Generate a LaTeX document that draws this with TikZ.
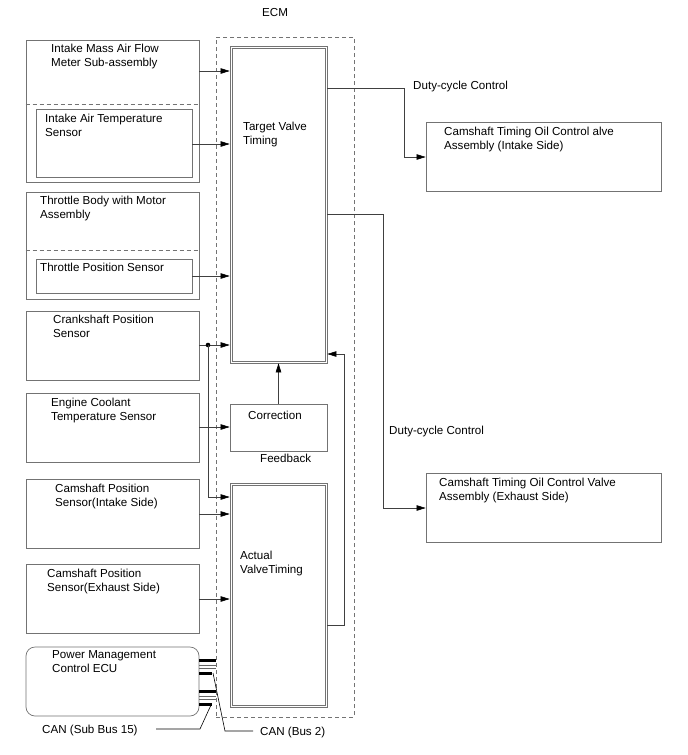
\documentclass[tikz,border=0pt]{standalone}
\usepackage{fontspec}
\setmainfont{Liberation Sans}
\usetikzlibrary{arrows.meta,calc}
\newcommand\tl[1]{\begin{tabular}[t]{@{}l@{}}#1\end{tabular}}
\begin{document}
\begin{tikzpicture}[x=1pt,y=-1pt,
  box/.style={draw=black!55,line width=0.7pt,rectangle,inner sep=0},
  txt/.style={anchor=base west,inner sep=0,font=\fontsize{11.6}{14}\selectfont},
  conn/.style={draw=black!75,line width=0.6pt},
  arr/.style={conn,-{Triangle[length=9pt,width=5.5pt,fill=black,color=black]}},
  dsh/.style={draw=black!55,line width=0.7pt,dash pattern=on 4pt off 3pt},
  bar/.style={draw=black,line width=3pt},
  thin/.style={draw=black!60,line width=0.5pt}]
\useasboundingbox (0,0) rectangle (688,755);
\fill[white] (0,0) rectangle (688,755);
% ECM dashed
\node[dsh,rectangle,inner sep=0,minimum width=138pt,minimum height=680pt] (ecm) at (285,377) {};
\node[txt] (ecmt) at (262,16) {ECM};
% left boxes
\node[box,minimum width=173pt,minimum height=142pt] (maf) at (112.5,111) {};
\draw[dsh] (maf.west |- 0,104) -- (maf.east |- 0,104);
\node[box,minimum width=156pt,minimum height=68pt] (iat) at (114,143) {};
\node[txt] (maft) at (51,52) {\tl{Intake Mass Air Flow\\Meter Sub-assembly}};
\node[txt] (iatt) at (45,122) {\tl{Intake Air Temperature\\Sensor}};
\node[box,minimum width=173pt,minimum height=107pt] (tb) at (112.5,245.5) {};
\draw[dsh] (tb.west |- 0,250) -- (tb.east |- 0,250);
\node[box,minimum width=156pt,minimum height=34pt] (tps) at (114,276) {};
\node[txt] (tbt) at (40,204) {\tl{Throttle Body with Motor\\Assembly}};
\node[txt] (tpst) at (40,271) {Throttle Position Sensor};
\node[box,minimum width=173pt,minimum height=69pt] (crank) at (112.5,345.5) {};
\node[txt] (crankt) at (53,323) {\tl{Crankshaft Position\\Sensor}};
\node[box,minimum width=173pt,minimum height=69pt] (ect) at (112.5,427.5) {};
\node[txt] (ectt) at (51,406) {\tl{Engine Coolant\\Temperature Sensor}};
\node[box,minimum width=173pt,minimum height=69pt] (cmpi) at (112.5,513.5) {};
\node[txt] (cmpit) at (55,492) {\tl{Camshaft Position\\Sensor(Intake Side)}};
\node[box,minimum width=173pt,minimum height=69pt] (cmpe) at (112.5,598.5) {};
\node[txt] (cmpet) at (47,577) {\tl{Camshaft Position\\Sensor(Exhaust Side)}};
\node[box,rounded corners=9pt,minimum width=173pt,minimum height=69pt] (pm) at (112.5,681.5) {};
\node[txt] (pmt) at (52,658) {\tl{Power Management\\Control ECU}};
% ECM internals
\node[box,minimum width=97pt,minimum height=317pt] (tvt) at (278.5,204.5) {};
\draw[box] ($(tvt.north west)+(2.5,2.5)$) rectangle ($(tvt.south east)+(-2.5,-2.5)$);
\node[txt] (tvtt) at (243,130) {\tl{Target Valve\\Timing}};
\node[box,minimum width=97pt,minimum height=47pt] (corr) at (278.5,427.5) {};
\node[txt] (corrt) at (248,419) {Correction};
\node[txt] (fbt) at (260,462) {Feedback};
\node[box,minimum width=97pt,minimum height=224pt] (avt) at (278.5,595) {};
\draw[box] ($(avt.north west)+(2.5,2.5)$) rectangle ($(avt.south east)+(-2.5,-2.5)$);
\node[txt] (avtt) at (240,559) {\tl{Actual\\ValveTiming}};
% right boxes
\node[box,minimum width=235pt,minimum height=69pt] (ocv1) at (543.5,156.5) {};
\node[txt] (ocv1t) at (444,135) {\tl{Camshaft Timing Oil Control alve\\Assembly (Intake Side)}};
\node[box,minimum width=235pt,minimum height=69pt] (ocv2) at (543.5,507.5) {};
\node[txt] (ocv2t) at (439,486) {\tl{Camshaft Timing Oil Control Valve\\Assembly (Exhaust Side)}};
\node[txt] (dc1) at (413,89) {Duty-cycle Control};
\node[txt] (dc2) at (389,434) {Duty-cycle Control};
% connectors into target
\draw[arr] (maf.east |- 0,71) -- (tvt.west |- 0,71);
\draw[arr] (iat.east |- 0,144) -- (tvt.west |- 0,144);
\draw[arr] (tps.east |- 0,276) -- (tvt.west |- 0,276);
\coordinate (dot) at (208,345);
\draw[arr] (crank.east |- dot) -- (tvt.west |- dot);
\fill[black] (dot) circle (2.3pt);
\draw[arr] (dot) -- (dot |- 0,497) -- (avt.west |- 0,497);
\draw[arr] (ect.east |- 0,427) -- (corr.west |- 0,427);
\draw[arr] (corr.north) -- (tvt.south);
\draw[arr] (cmpi.east |- 0,514) -- (avt.west |- 0,514);
\draw[arr] (cmpe.east |- 0,599) -- (avt.west |- 0,599);
% feedback
\coordinate (fb) at (344,625);
\draw[arr] (avt.east |- fb) -- (fb) -- (fb |- 0,354) -- (tvt.east |- 0,354);
% duty cycle
\coordinate (d1) at (404,88);
\draw[arr] (tvt.east |- d1) -- (d1) -- (d1 |- 0,157) -- (ocv1.west |- 0,157);
\coordinate (d2) at (383,214);
\draw[arr] (tvt.east |- d2) -- (d2) -- (d2 |- 0,508) -- (ocv2.west |- 0,508);
% CAN bars
\draw[bar] (199,660) -- (216,660);
\draw[thin] (199,665.3) -- (216,665.3);
\draw[thin] (199,668) -- (216,668);
\draw[bar] (199,673) -- (212,673);
\draw[bar] (199,691) -- (216,691);
\draw[thin] (199,696.3) -- (216,696.3);
\draw[thin] (199,699) -- (216,699);
\draw[bar] (199,704) -- (212,704);
% leaders
\coordinate (c2a) at (213,673);
\coordinate (c2b) at (225,731);
\draw[conn,draw=black] (c2a) -- (c2b) -- (253,731);
\node[txt] (can2) at (260,735) {CAN (Bus 2)};
\coordinate (c15a) at (211,705);
\coordinate (c15b) at (200,729);
\draw[conn,draw=black] (c15a) -- (c15b) -- (156,729);
\node[txt] (can15) at (42,733) {CAN (Sub Bus 15)};
\end{tikzpicture}
\end{document}
